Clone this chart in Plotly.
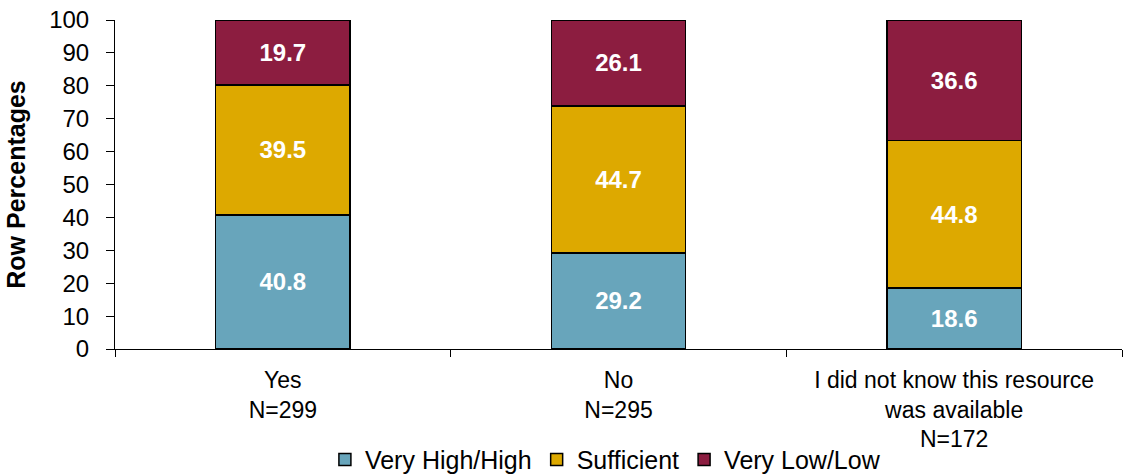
import plotly.graph_objects as go

categories = ["Yes<br>N=299", "No<br>N=295",
              "I did not know this resource<br>was available<br>N=172"]
very_high_high = [40.8, 29.2, 18.6]
sufficient = [39.5, 44.7, 44.8]
very_low_low = [19.7, 26.1, 36.6]
y_ticks = list(range(0, 101, 10))

series = [
    ("Very High/High", very_high_high, "#68A5BB"),
    ("Sufficient", sufficient, "#DDA900"),
    ("Very Low/Low", very_low_low, "#8C1D40"),
]

FONT = "Liberation Sans"

fig = go.Figure()
for name, vals, color in series:
    fig.add_trace(go.Bar(
        x=categories, y=vals, name=name,
        marker=dict(color=color, line=dict(color="black", width=1.5)),
        text=[f"{v:.1f}" for v in vals],
        textposition="inside", insidetextanchor="middle",
        textfont=dict(color="white", size=24, family=FONT),
        texttemplate="<b>%{text}</b>",
        width=0.4,
    ))

fig.update_layout(
    barmode="stack",
    width=1124, height=475,
    margin=dict(l=115, r=2, t=20, b=126, autoexpand=False),
    plot_bgcolor="white", paper_bgcolor="white",
    font=dict(family=FONT, size=24, color="black"),
    uniformtext=dict(mode="show", minsize=24),
    legend=dict(orientation="h", x=0.487, xanchor="center",
                y=-0.337, yanchor="middle",
                font=dict(size=25), itemwidth=30, tracegroupgap=0,
                traceorder="normal"),
    bargap=0.6,
)
fig.update_xaxes(
    showline=True, linecolor="black", linewidth=1, automargin=False,
    ticks="outside", tickson="boundaries", ticklen=7, tickcolor="black",
    tickfont=dict(size=23), showgrid=False, ticklabelstandoff=10,
)
fig.update_yaxes(
    range=[0, 100], tickvals=y_ticks, showline=True, linecolor="black",
    linewidth=1, ticks="outside", ticklen=8, tickcolor="black",
    tickfont=dict(size=24), showgrid=False, zeroline=False,
    ticklabelstandoff=12, automargin=False,
    title=dict(text="<b>Row Percentages</b>", font=dict(size=25), standoff=16),
)

fig.write_html("out.html")
